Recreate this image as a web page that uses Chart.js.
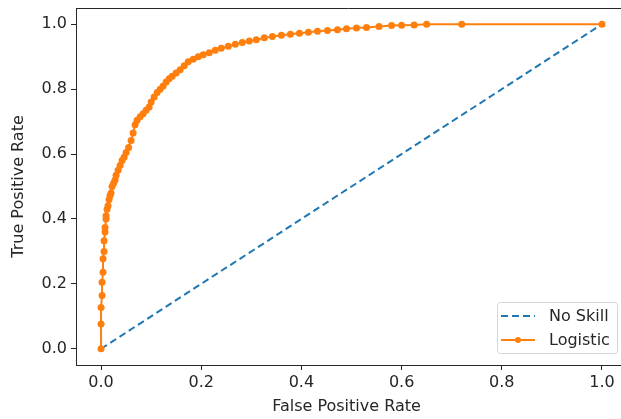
<!DOCTYPE html>
<html>
<head>
<meta charset="utf-8">
<script src="https://cdn.jsdelivr.net/npm/chart.js@4"></script>
<style>
  html, body { margin: 0; padding: 0; background: #fff; overflow: hidden; }
  #wrap { width: 621px; height: 419px; }
</style>
</head>
<body>
<div id="wrap"><canvas id="roc-chart" width="621" height="419"></canvas></div>
<script>
// values
var noSkillFpr = [0, 1];
var noSkillTpr = [0, 1];

var logisticFpr = [
  0, 0, 0, 0.002, 0.002, 0.004, 0.004, 0.006, 0.006, 0.008,
  0.008, 0.01, 0.01, 0.012, 0.014, 0.016, 0.018, 0.02, 0.022, 0.025,
  0.028, 0.03, 0.034, 0.038, 0.042, 0.046, 0.05, 0.055, 0.06, 0.064,
  0.068, 0.072, 0.078, 0.084, 0.09, 0.096, 0.1, 0.106, 0.112, 0.118,
  0.124, 0.13, 0.136, 0.142, 0.15, 0.158, 0.166, 0.174, 0.184, 0.194,
  0.204, 0.216, 0.228, 0.24, 0.254, 0.268, 0.282, 0.296, 0.31, 0.326,
  0.342, 0.36, 0.378, 0.396, 0.414, 0.432, 0.452, 0.472, 0.49, 0.51,
  0.53, 0.555, 0.58, 0.6, 0.625, 0.65, 0.72, 1.0
];
var logisticTpr = [
  0, 0.076, 0.127, 0.164, 0.205, 0.236, 0.277, 0.30, 0.333, 0.36,
  0.374, 0.40, 0.41, 0.43, 0.441, 0.46, 0.472, 0.48, 0.50, 0.51,
  0.52, 0.535, 0.55, 0.565, 0.58, 0.59, 0.605, 0.62, 0.642, 0.665,
  0.69, 0.704, 0.715, 0.724, 0.735, 0.745, 0.76, 0.776, 0.79, 0.80,
  0.81, 0.822, 0.832, 0.84, 0.85, 0.86, 0.872, 0.884, 0.892, 0.9,
  0.906, 0.912, 0.92, 0.926, 0.932, 0.938, 0.944, 0.948, 0.952, 0.958,
  0.962, 0.966, 0.969, 0.972, 0.975, 0.978, 0.981, 0.983, 0.986, 0.988,
  0.99, 0.993, 0.996, 0.997, 0.998, 1.0, 1.0, 1.0
];

var xTicks = [0, 0.2, 0.4, 0.6, 0.8, 1.0];
var yTicks = [0, 0.2, 0.4, 0.6, 0.8, 1.0];

var blue = '#1f77b4';
var orange = '#ff7f0e';
var ink = '#262626';
var fontFamily = '"DejaVu Sans", sans-serif';
var fontSize = 16;

function toPoints(xs, ys) {
  return xs.map(function(x, i) { return { x: x, y: ys[i] }; });
}

// frame lines (the right side runs off the picture) + matplotlib-like legend box
var framePlugin = {
  id: 'frame',
  afterDraw: function(chart) {
    var ctx = chart.ctx;
    var a = chart.chartArea;
    ctx.save();
    ctx.strokeStyle = ink;
    ctx.lineWidth = 1;
    ctx.beginPath();
    ctx.moveTo(a.left, Math.round(a.top) + 0.5);
    ctx.lineTo(chart.width, Math.round(a.top) + 0.5);
    ctx.moveTo(a.right, Math.round(a.bottom) + 0.5);
    ctx.lineTo(chart.width, Math.round(a.bottom) + 0.5);
    ctx.stroke();

    // legend
    var bx = 497, by = 302, bw = 120, bh = 51, r = 3;
    ctx.fillStyle = 'rgba(255,255,255,0.8)';
    ctx.strokeStyle = '#d6d6d6';
    ctx.beginPath();
    ctx.roundRect(bx + 0.5, by + 0.5, bw, bh, r);
    ctx.fill();
    ctx.stroke();

    var items = chart.data.datasets;
    var rows = [316, 340];
    ctx.font = fontSize + 'px ' + fontFamily;
    ctx.textBaseline = 'middle';
    items.forEach(function(ds, i) {
      var yy = rows[i];
      ctx.strokeStyle = ds.borderColor;
      ctx.lineWidth = ds.borderWidth;
      ctx.setLineDash(ds.borderDash || []);
      ctx.beginPath();
      ctx.moveTo(501, yy);
      ctx.lineTo(535, yy);
      ctx.stroke();
      ctx.setLineDash([]);
      if (ds.pointRadius > 0) {
        ctx.fillStyle = ds.pointBackgroundColor;
        ctx.beginPath();
        ctx.arc(518, yy, 3, 0, Math.PI * 2);
        ctx.fill();
      }
      ctx.fillStyle = ink;
      ctx.fillText(ds.label, 549, yy + 1);
    });
    ctx.restore();
  }
};

// keep chart.js from reserving room for half tick labels at the ends
function noEndPadding(s) {
  s.paddingTop = 0;
  s.paddingBottom = 0;
  s.paddingLeft = 0;
  s.paddingRight = 0;
}

var chart = new Chart(document.getElementById('roc-chart'), {
  type: 'scatter',
  data: {
    datasets: [
      {
        label: 'No Skill',
        data: toPoints(noSkillFpr, noSkillTpr),
        showLine: true,
        borderColor: blue,
        backgroundColor: blue,
        borderWidth: 2,
        borderDash: [7, 4],
        pointRadius: 0,
        order: 1
      },
      {
        label: 'Logistic',
        data: toPoints(logisticFpr, logisticTpr),
        showLine: true,
        borderColor: orange,
        backgroundColor: orange,
        pointBackgroundColor: orange,
        pointBorderWidth: 0,
        borderWidth: 2,
        pointRadius: 3.5,
        order: 0
      }
    ]
  },
  options: {
    animation: false,
    responsive: false,
    devicePixelRatio: 1,
    layout: { padding: { top: 8, right: 0, left: 0, bottom: 0 } },
    plugins: {
      legend: { display: false },
      tooltip: { enabled: false }
    },
    scales: {
      x: {
        type: 'linear',
        min: -0.05,
        max: 1.03,
        afterBuildTicks: function(s) { s.ticks = xTicks.map(function(v) { return { value: v }; }); },
        afterFit: function(s) { s.height = 54; noEndPadding(s); },
        grid: { drawOnChartArea: false, drawTicks: true, tickLength: 5, color: ink },
        border: { display: true, color: ink, width: 1 },
        ticks: {
          color: ink,
          font: { family: fontFamily, size: fontSize },
          padding: 3,
          maxRotation: 0,
          callback: function(v) { return v.toFixed(1); }
        },
        title: {
          display: true,
          text: 'False Positive Rate',
          color: ink,
          font: { family: fontFamily, size: fontSize },
          padding: { top: 0, bottom: 3 }
        }
      },
      y: {
        type: 'linear',
        min: -0.05,
        max: 1.05,
        afterBuildTicks: function(s) { s.ticks = yTicks.map(function(v) { return { value: v }; }); },
        afterFit: function(s) { s.width = 76; noEndPadding(s); },
        grid: { drawOnChartArea: false, drawTicks: true, tickLength: 5, color: ink },
        border: { display: true, color: ink, width: 1 },
        ticks: {
          color: ink,
          font: { family: fontFamily, size: fontSize },
          padding: 4,
          callback: function(v) { return v.toFixed(1); }
        },
        title: {
          display: true,
          text: 'True Positive Rate',
          color: ink,
          font: { family: fontFamily, size: fontSize },
          padding: { top: 9, bottom: 0 }
        }
      }
    }
  },
  plugins: [framePlugin]
});
</script>
</body>
</html>
